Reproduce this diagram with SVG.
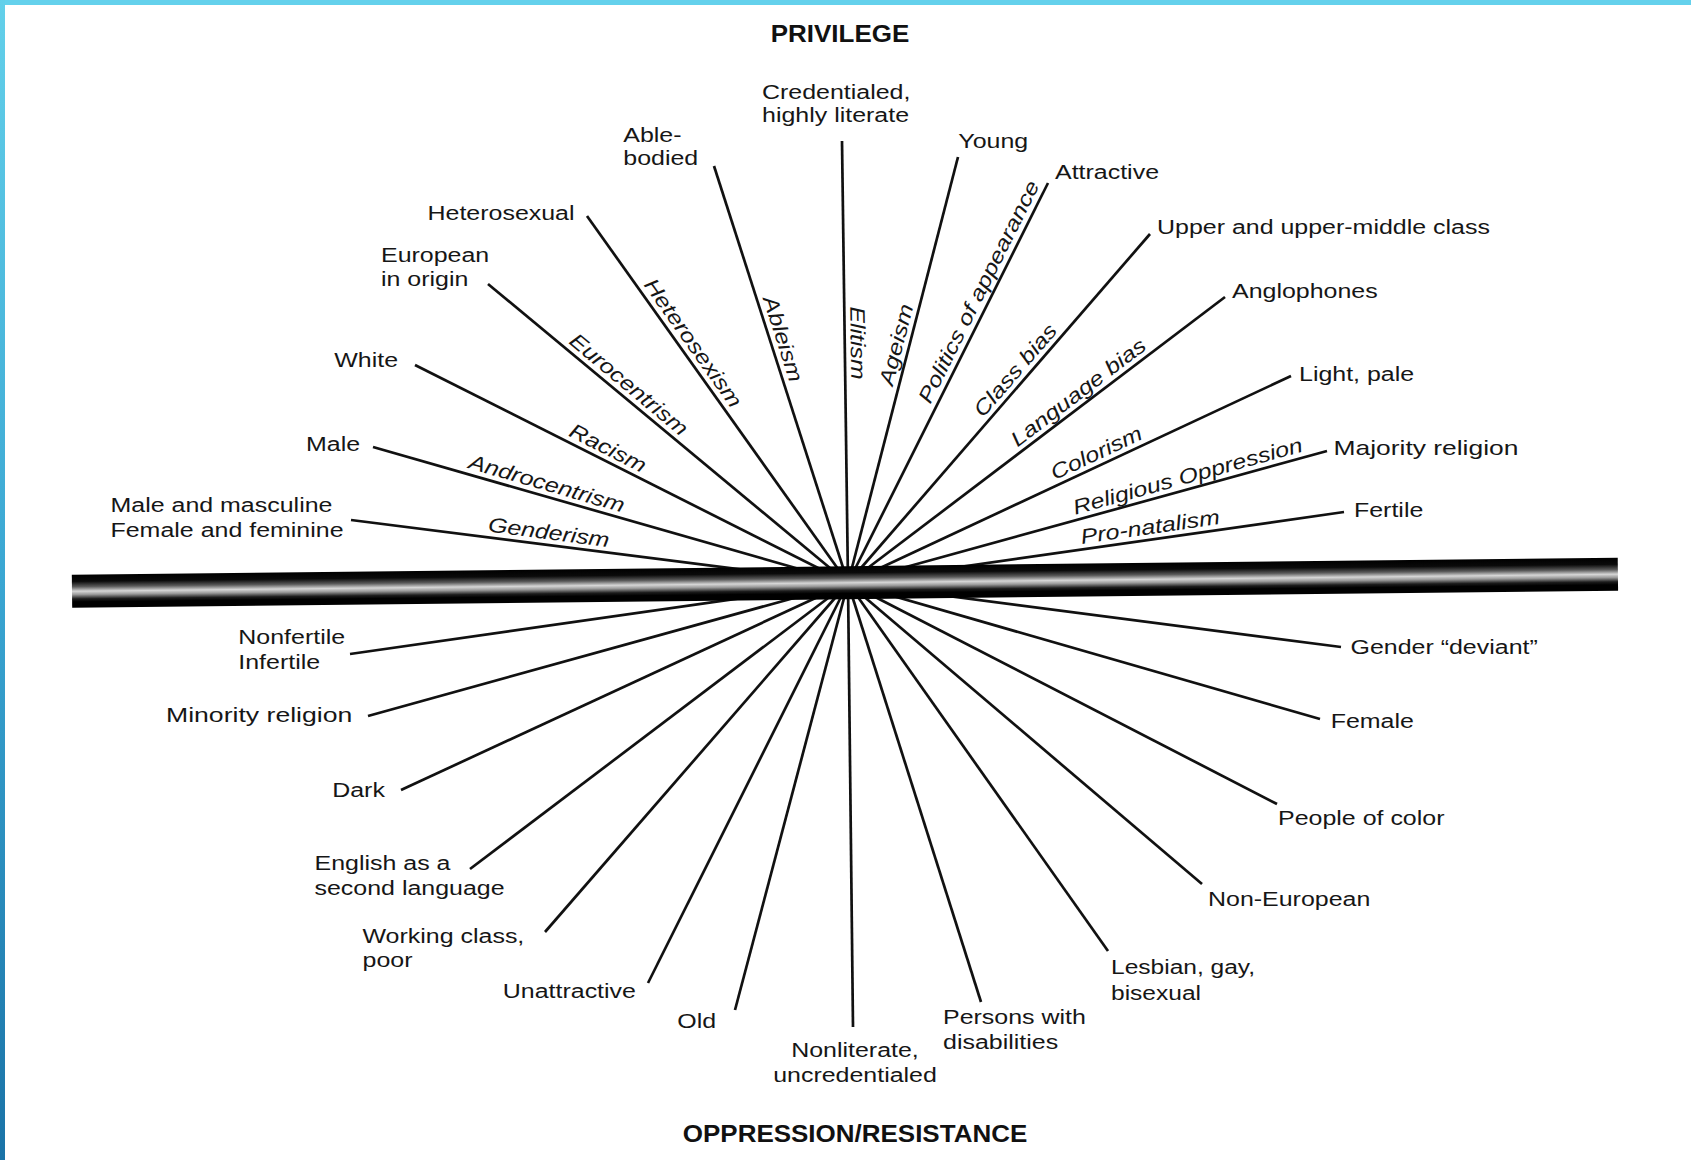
<svg xmlns="http://www.w3.org/2000/svg" width="1691" height="1160" viewBox="0 0 1691 1160">
<defs>
<linearGradient id="sideBand" x1="0" y1="0" x2="0" y2="1">
<stop offset="0" stop-color="#63d0ea"/>
<stop offset="0.5" stop-color="#3aa6d2"/>
<stop offset="1" stop-color="#1a73a7"/>
</linearGradient>
<linearGradient id="barGrad" x1="0" y1="0" x2="0" y2="1">
<stop offset="0" stop-color="#000"/>
<stop offset="0.2" stop-color="#0a0a0a"/>
<stop offset="0.36" stop-color="#5a5a5a"/>
<stop offset="0.5" stop-color="#d6d6d6"/>
<stop offset="0.6" stop-color="#9a9a9a"/>
<stop offset="0.73" stop-color="#1c1c1c"/>
<stop offset="0.82" stop-color="#000"/>
<stop offset="1" stop-color="#000"/>
</linearGradient>
<style>
.spoke{stroke:#111;stroke-width:2.7;fill:none;stroke-linecap:butt}
.lbl{font-family:"Liberation Sans",Arial,sans-serif;font-size:20.8px;fill:#161616}
.ital{font-family:"Liberation Sans",Arial,sans-serif;font-size:20.8px;font-style:italic;fill:#161616;text-anchor:middle}
.title{font-family:"Liberation Sans",Arial,sans-serif;font-size:23.4px;font-weight:bold;fill:#111;text-anchor:middle}
</style>
</defs>
<rect x="0" y="0" width="1691" height="1160" fill="#fff"/>
<rect x="0" y="0" width="1691" height="5" fill="#64d1ec"/>
<rect x="0" y="0" width="5" height="1160" fill="url(#sideBand)"/>

<g id="connectors">
<line class="spoke" x1="351" y1="520" x2="848" y2="583"/>
<line class="spoke" x1="373" y1="447" x2="848" y2="583"/>
<line class="spoke" x1="415" y1="365" x2="848" y2="583"/>
<line class="spoke" x1="488" y1="284" x2="848" y2="583"/>
<line class="spoke" x1="587" y1="216" x2="848" y2="583"/>
<line class="spoke" x1="714" y1="166" x2="848" y2="583"/>
<line class="spoke" x1="842" y1="141" x2="848" y2="583"/>
<line class="spoke" x1="958" y1="157" x2="848" y2="583"/>
<line class="spoke" x1="1048" y1="183" x2="848" y2="583"/>
<line class="spoke" x1="1150" y1="234" x2="848" y2="583"/>
<line class="spoke" x1="1225" y1="297" x2="848" y2="583"/>
<line class="spoke" x1="1291" y1="376" x2="848" y2="583"/>
<line class="spoke" x1="1327" y1="451" x2="848" y2="583"/>
<line class="spoke" x1="1344" y1="512" x2="848" y2="583"/>
<line class="spoke" x1="350" y1="654" x2="848" y2="583"/>
<line class="spoke" x1="368" y1="716" x2="848" y2="583"/>
<line class="spoke" x1="401" y1="790" x2="848" y2="583"/>
<line class="spoke" x1="470" y1="869" x2="848" y2="583"/>
<line class="spoke" x1="545" y1="932" x2="848" y2="583"/>
<line class="spoke" x1="648" y1="983" x2="848" y2="583"/>
<line class="spoke" x1="735" y1="1010" x2="848" y2="583"/>
<line class="spoke" x1="853" y1="1027" x2="848" y2="583"/>
<line class="spoke" x1="981" y1="1002" x2="848" y2="583"/>
<line class="spoke" x1="1108" y1="951" x2="848" y2="583"/>
<line class="spoke" x1="1202" y1="884" x2="848" y2="583"/>
<line class="spoke" x1="1277" y1="804" x2="848" y2="583"/>
<line class="spoke" x1="1320" y1="719" x2="848" y2="583"/>
<line class="spoke" x1="1341" y1="647" x2="848" y2="583"/>
</g>

<g id="axis-bar">
<rect x="72" y="574.8" width="1546" height="33" fill="url(#barGrad)" transform="rotate(-0.634 72 591.3)"/>
</g>

<g id="connector-labels">
<text class="ital" transform="translate(547.2,545.3) rotate(7.34) scale(1.2,1)" y="-6">Genderism</text>
<text class="ital" transform="translate(543.2,496.1) rotate(16.09) scale(1.2,1)" y="-6">Androcentrism</text>
<text class="ital" transform="translate(602.1,459.7) rotate(26.83) scale(1.2,1)" y="-6">Racism</text>
<text class="ital" transform="translate(620.5,394.4) rotate(39.81) scale(1.2,1)" y="-6">Eurocentrism</text>
<text class="ital" transform="translate(682.4,350.5) rotate(54.65) scale(1.2,1)" y="-6">Heterosexism</text>
<text class="ital" transform="translate(770.7,342.9) rotate(72.23) scale(1.2,1)" y="-6">Ableism</text>
<text class="ital" transform="translate(844.7,343.2) rotate(89.2) scale(1.2,1)" y="-6">Elitism</text>
<text class="ital" transform="translate(908.9,347.8) rotate(-75.55) scale(1.2,1)" y="-6">Ageism</text>
<text class="ital" transform="translate(990.5,297.5) rotate(-63.5) scale(1.2,1)" y="-6">Politics of appearance</text>
<text class="ital" transform="translate(1025.2,378.7) rotate(-49.2) scale(1.2,1)" y="-6">Class bias</text>
<text class="ital" transform="translate(1086.2,402.7) rotate(-37.28) scale(1.2,1)" y="-6">Language bias</text>
<text class="ital" transform="translate(1101.8,464.8) rotate(-25.15) scale(1.2,1)" y="-6">Colorism</text>
<text class="ital" transform="translate(1191.1,488.7) rotate(-15.52) scale(1.2,1)" y="-6">Religious Oppression</text>
<text class="ital" transform="translate(1152,539.8) rotate(-8.26) scale(1.2,1)" y="-6">Pro-natalism</text>
</g>

<g id="title-privilege"><text class="title" transform="translate(840,41.7) scale(1.11,1)">PRIVILEGE</text></g>
<g id="title-oppression"><text class="title" transform="translate(855,1142) scale(1.11,1)">OPPRESSION/RESISTANCE</text></g>

<g id="n-credentialed"><text class="lbl" transform="translate(762,98.5) scale(1.2,1)"><tspan x="0" y="0">Credentialed,</tspan><tspan x="0" y="23.6">highly literate</tspan></text></g>
<g id="n-ablebodied"><text class="lbl" transform="translate(623.3,141.7) scale(1.2,1)"><tspan x="0" y="0">Able-</tspan><tspan x="0" y="23.6">bodied</tspan></text></g>
<g id="n-young"><text class="lbl" transform="translate(958.3,148) scale(1.2,1)">Young</text></g>
<g id="n-attractive"><text class="lbl" transform="translate(1055,178.5) scale(1.2,1)">Attractive</text></g>
<g id="n-heterosexual"><text class="lbl" transform="translate(427.5,220) scale(1.2,1)">Heterosexual</text></g>
<g id="n-european"><text class="lbl" transform="translate(381,261.5) scale(1.2,1)"><tspan x="0" y="0">European</tspan><tspan x="0" y="24.3">in origin</tspan></text></g>
<g id="n-upper"><text class="lbl" transform="translate(1157,233.5) scale(1.2,1)">Upper and upper-middle class</text></g>
<g id="n-anglophones"><text class="lbl" transform="translate(1232,298) scale(1.2,1)">Anglophones</text></g>
<g id="n-white"><text class="lbl" transform="translate(334.3,367) scale(1.2,1)">White</text></g>
<g id="n-light"><text class="lbl" transform="translate(1299,381) scale(1.2,1)">Light, pale</text></g>
<g id="n-male"><text class="lbl" transform="translate(306,451.2) scale(1.2,1)">Male</text></g>
<g id="n-majority"><text class="lbl" transform="translate(1333.5,455) scale(1.27,1)">Majority religion</text></g>
<g id="n-malemasc"><text class="lbl" transform="translate(110.5,512) scale(1.2,1)"><tspan x="0" y="0">Male and masculine</tspan><tspan x="0" y="25.5">Female and feminine</tspan></text></g>
<g id="n-fertile"><text class="lbl" transform="translate(1354,516.8) scale(1.2,1)">Fertile</text></g>

<g id="n-nonfertile"><text class="lbl" transform="translate(238.3,644) scale(1.2,1)"><tspan x="0" y="0">Nonfertile</tspan><tspan x="0" y="24.8">Infertile</tspan></text></g>
<g id="n-genderdeviant"><text class="lbl" transform="translate(1350.5,653.8) scale(1.2,1)">Gender “deviant”</text></g>
<g id="n-minority"><text class="lbl" transform="translate(166,722) scale(1.28,1)">Minority religion</text></g>
<g id="n-female"><text class="lbl" transform="translate(1330.7,728.2) scale(1.2,1)">Female</text></g>
<g id="n-dark"><text class="lbl" transform="translate(332.2,797.2) scale(1.2,1)">Dark</text></g>
<g id="n-poc"><text class="lbl" transform="translate(1278,824.7) scale(1.2,1)">People of color</text></g>
<g id="n-english"><text class="lbl" transform="translate(314.5,870) scale(1.2,1)"><tspan x="0" y="0">English as a</tspan><tspan x="0" y="25.3">second language</tspan></text></g>
<g id="n-noneuropean"><text class="lbl" transform="translate(1208,906) scale(1.2,1)">Non-European</text></g>
<g id="n-working"><text class="lbl" transform="translate(362.5,943) scale(1.2,1)"><tspan x="0" y="0">Working class,</tspan><tspan x="0" y="24">poor</tspan></text></g>
<g id="n-lgb"><text class="lbl" transform="translate(1111,974.3) scale(1.18,1)"><tspan x="0" y="0">Lesbian, gay,</tspan><tspan x="0" y="25.5">bisexual</tspan></text></g>
<g id="n-unattractive"><text class="lbl" transform="translate(502.8,997.7) scale(1.2,1)">Unattractive</text></g>
<g id="n-old"><text class="lbl" transform="translate(677.3,1027.7) scale(1.2,1)">Old</text></g>
<g id="n-persons"><text class="lbl" transform="translate(943,1023.6) scale(1.2,1)"><tspan x="0" y="0">Persons with</tspan><tspan x="0" y="25.3">disabilities</tspan></text></g>
<g id="n-nonliterate"><text class="lbl" text-anchor="middle" transform="translate(855,1057) scale(1.2,1)"><tspan x="0" y="0">Nonliterate,</tspan><tspan x="0" y="24.8">uncredentialed</tspan></text></g>
</svg>
